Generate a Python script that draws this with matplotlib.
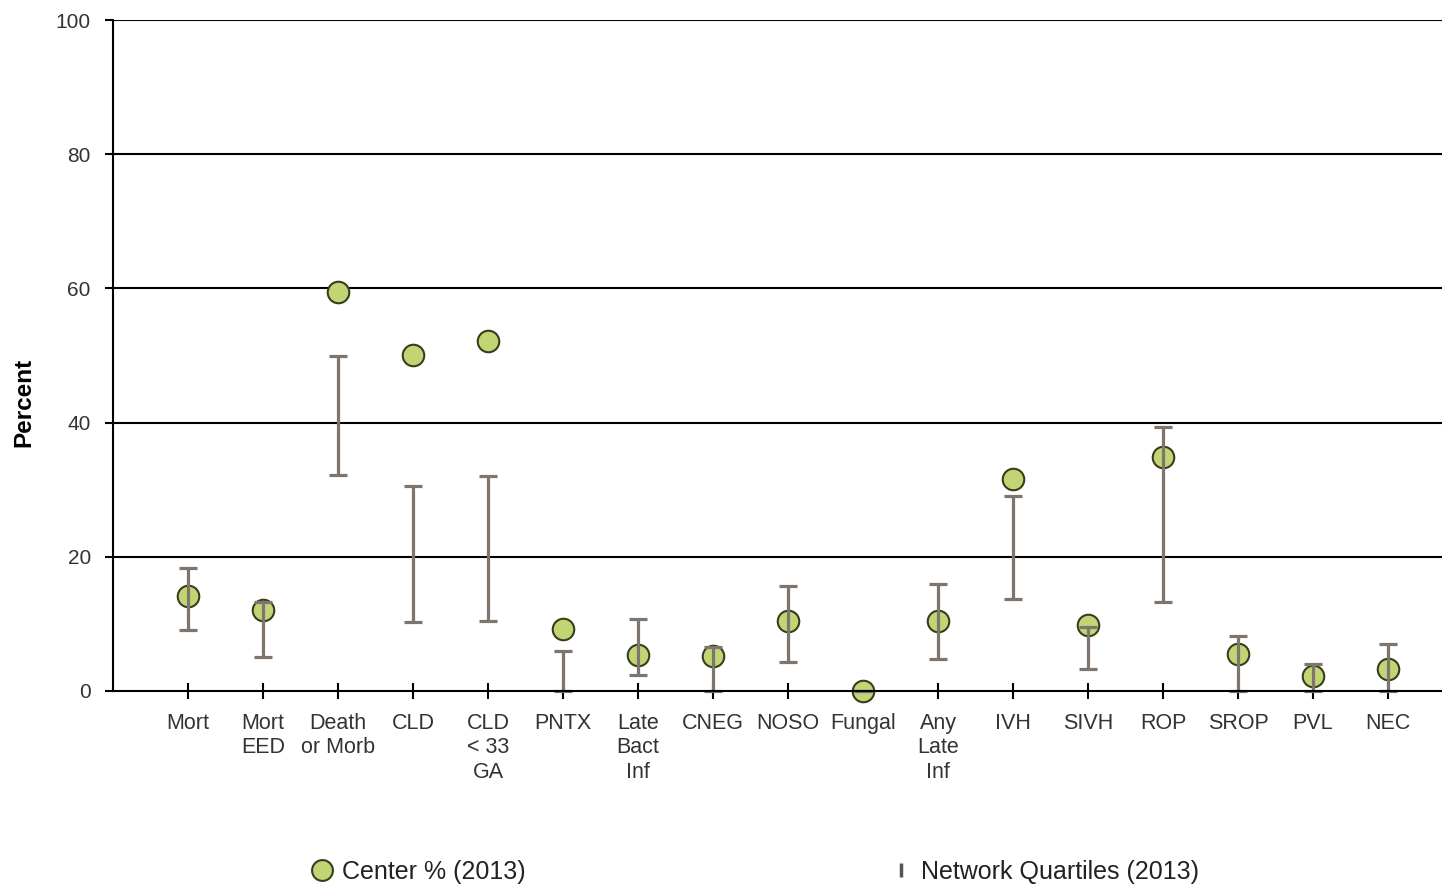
import matplotlib
matplotlib.use("Agg")
import matplotlib.pyplot as plt
from matplotlib.lines import Line2D
import numpy as np

plt.rcParams['font.family'] = ['Liberation Sans', 'DejaVu Sans']

# outcome measures, center rates and network quartiles (2013)
categories = ['Mort', 'Mort\nEED', 'Death\nor Morb', 'CLD', 'CLD\n< 33\nGA', 'PNTX',
              'Late\nBact\nInf', 'CNEG', 'NOSO', 'Fungal', 'Any\nLate\nInf', 'IVH',
              'SIVH', 'ROP', 'SROP', 'PVL', 'NEC']
center_pct = [14.1, 12.1, 59.4, 50.1, 52.2, 9.3, 5.4, 5.2, 10.4, 0.0, 10.4, 31.6,
              9.8, 34.9, 5.5, 2.2, 3.3]
q_low = [9.1, 5.0, 32.2, 10.3, 10.5, 0.0, 2.4, 0.0, 4.3, 0.0, 4.8, 13.7,
         3.3, 13.3, 0.0, 0.0, 0.0]
q_high = [18.4, 13.2, 49.9, 30.6, 32.1, 5.9, 10.8, 6.6, 15.7, 0.0, 15.9, 29.0,
          9.6, 39.3, 8.2, 4.0, 7.0]

x = np.arange(1, len(categories) + 1)
center_pct = np.array(center_pct)
q_low = np.array(q_low)
q_high = np.array(q_high)

dot_face = '#c2d574'
dot_edge = '#3a3d1c'
bar_col = '#7d756e'

fig = plt.figure(figsize=(14.42, 8.86), dpi=100)
ax = fig.add_axes([113 / 1442, 1 - 691 / 886, (1463 - 113) / 1442, (691 - 20) / 886])

# horizontal grid
for yv in [20, 40, 60, 80, 100]:
    ax.axhline(yv, color='black', lw=1.5, zorder=1)

ax.plot(x, center_pct, 'o', ms=15.5, mfc=dot_face, mec=dot_edge, mew=1.5,
        zorder=3, clip_on=False)

mid = (q_low + q_high) / 2
ax.errorbar(x, mid, yerr=(q_high - q_low) / 2, fmt='none', ecolor=bar_col,
            elinewidth=2.3, capsize=6.5, capthick=2.3, zorder=4, clip_on=False)

ax.set_xlim(0, 18)
ax.set_ylim(0, 100)
ax.set_xticks(x)
ax.set_xticklabels(categories, fontsize=15.5, color='#333333', linespacing=1.2)
ax.set_yticks([0, 20, 40, 60, 80, 100])
ax.set_yticklabels(['0', '20', '40', '60', '80', '100'], fontsize=15, color='#333333')

ax.tick_params(axis='x', direction='inout', length=12, width=1.5, pad=10)
ax.tick_params(axis='y', direction='out', length=6, width=1.5, pad=10)

for side in ['top', 'right']:
    ax.spines[side].set_visible(False)
for side in ['left', 'bottom']:
    ax.spines[side].set_linewidth(1.5)
    ax.spines[side].set_zorder(5)

ax.set_ylabel('Percent', fontsize=17.5, fontweight='bold')
ax.yaxis.set_label_coords(-0.0575, 0.43)

handles = [
    Line2D([], [], ls='none', marker='o', ms=15, mfc=dot_face, mec=dot_edge, mew=1.5),
    Line2D([], [], ls='none', marker='|', ms=10, mec='#555555', mew=2.5),
]
fig.legend(handles, ['Center % (2013)', 'Network Quartiles (2013)'], ncol=2,
           loc='center left', bbox_to_anchor=(0.201, 1 - 872 / 886), frameon=False,
           fontsize=18, columnspacing=14.6, handlelength=0.8, handletextpad=0.4,
           labelcolor='#222222')

fig.savefig('out.png', dpi=100)
